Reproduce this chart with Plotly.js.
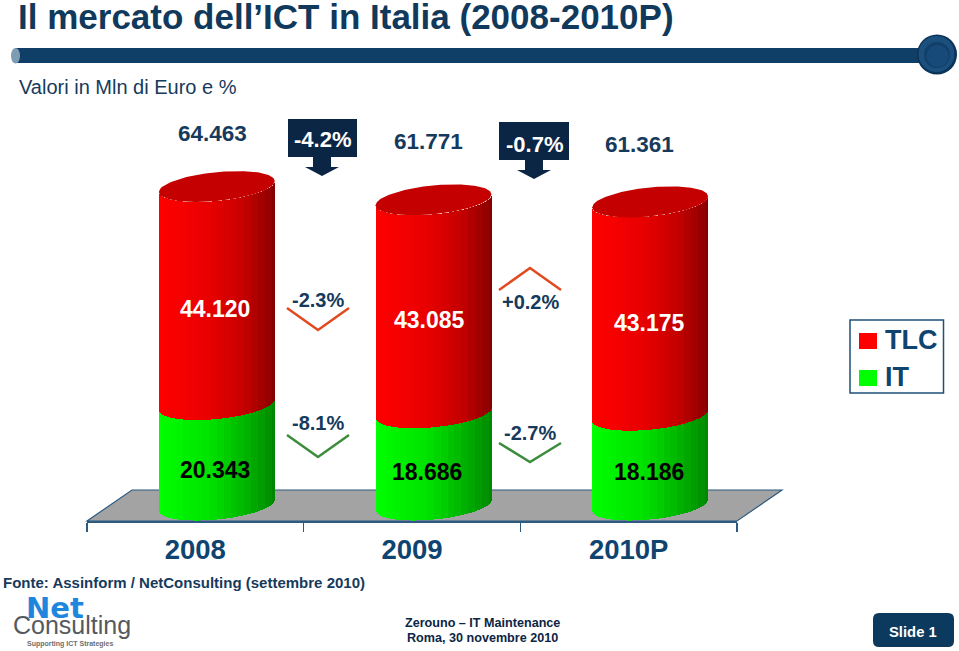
<!DOCTYPE html>
<html><head><meta charset="utf-8">
<script src="https://cdn.plot.ly/plotly-3.0.1.min.js"></script>
<style>html,body{margin:0;padding:0;background:#fff}#chart{width:959px;height:651px}</style>
</head><body><div id="chart"></div>
<script>
// ---- values (Mln di Euro, thousands separated by a dot) ----
var years = ['2008', '2009', '2010P'];
var tlc = [44.120, 43.085, 43.175];
var it = [20.343, 18.686, 18.186];
var totals = [64.463, 61.771, 61.361];
var totalChanges = ['-4.2%', '-0.7%'];
var tlcChanges = ['-2.3%', '+0.2%'];
var itChanges = ['-8.1%', '-2.7%'];

// ---- drawing constants ----
var W = 959, H = 651;
var FONT = '"Liberation Sans", Arial, sans-serif';
var NAVY = '#0b2545', BLUE = '#0f4470', TEXT = '#163a5c', TITLE = '#10395c';
var axL = 87, axR = 737, axY = 521;
var pxPerUnit = 4.94, zeroPx = 505;
var pxPerCat = (axR - axL) / 3;
var halfW = 58, radY = 14.5, tilt = 5.5, depthShift = 21.5;

function X(p) { return p / W; }
function Y(p) { return 1 - p / H; }
function ramp(stops, t) {
  for (var i = 1; i < stops.length; i++) {
    if (t <= stops[i][0]) {
      var a = stops[i - 1], b = stops[i], f = (t - a[0]) / (b[0] - a[0]);
      return [1, 2, 3].map(function (k) { return Math.round(a[k] + (b[k] - a[k]) * f); });
    }
  }
  return stops[stops.length - 1].slice(1);
}
var redStops = [[0, 255, 0, 0], [0.45, 232, 0, 0], [0.75, 195, 0, 0], [1, 135, 0, 0]];
var greenStops = [[0, 0, 255, 0], [0.45, 0, 225, 0], [0.75, 0, 180, 0], [1, 0, 135, 0]];
function col(stops, t) {
  var q = Math.round(t * 17) / 17;           // the cylinders are banded in the reference
  var c = ramp(stops, q);
  return 'rgb(' + c.join(',') + ')';
}
function front(u) { return -(radY * Math.sqrt(Math.max(0, 1 - u * u)) - tilt * u) / pxPerUnit; }
function back(u) { return (radY * Math.sqrt(Math.max(0, 1 - u * u)) + tilt * u) / pxPerUnit; }

// ---- cylinder strips ----
var sx = [], redBase = [], redLen = [], redCol = [], grBase = [], grLen = [], grCol = [];
years.forEach(function (yr, c) {
  for (var k = 0; k < 2 * halfW; k++) {
    var off = k + 0.5 - halfW, u = off / halfW, t = (u + 1) / 2;
    sx.push(c + 1 + (off + depthShift) / pxPerCat);
    grBase.push(front(u)); grLen.push(it[c]); grCol.push(col(greenStops, t));
    redBase.push(it[c] + front(u)); redLen.push(tlc[c]); redCol.push(col(redStops, t));
  }
});
var stripW = 1 / pxPerCat;
var traces = [
  { type: 'bar', name: 'IT', x: sx, y: grLen, base: grBase, width: stripW, marker: { color: grCol, line: { width: 0 } }, hoverinfo: 'skip', showlegend: false },
  { type: 'bar', name: 'TLC', x: sx, y: redLen, base: redBase, width: stripW, marker: { color: redCol, line: { width: 0 } }, hoverinfo: 'skip', showlegend: false }
];
// ---- cylinder caps ----
years.forEach(function (yr, c) {
  var xs = [], ys = [], i, u;
  for (i = 0; i <= 80; i++) { u = -1 + i / 40; xs.push(c + 1 + (u * halfW + depthShift) / pxPerCat); ys.push(it[c] + tlc[c] + front(u)); }
  for (i = 80; i >= 0; i--) { u = -1 + i / 40; xs.push(c + 1 + (u * halfW + depthShift) / pxPerCat); ys.push(it[c] + tlc[c] + back(u)); }
  traces.push({ type: 'scatter', mode: 'lines', x: xs, y: ys, fill: 'toself', fillcolor: '#c40000', line: { width: 0, color: '#c40000' }, hoverinfo: 'skip', showlegend: false, name: 'cap ' + yr });
});

// ---- text ----
var ann = [];
function note(text, px, py, size, color, bold, anchor, family) {
  ann.push({ xref: 'paper', yref: 'paper', x: X(px), y: Y(py), text: text, showarrow: false, xanchor: anchor || 'center', yanchor: 'middle', align: 'center', borderpad: 0,
    font: { family: family || FONT, size: size, color: color, weight: bold ? 'bold' : 'normal' } });
}
note('Valori in Mln di Euro e %', 18, 87, 20, TEXT, false, 'left');
var totalPos = [[212, 133], [428, 141], [639, 145]];
totals.forEach(function (v, i) { note(v.toFixed(3), totalPos[i][0], totalPos[i][1], 22.5, TEXT, true); });
var tlcPos = [[215, 309], [429, 320], [649, 323]];
tlc.forEach(function (v, i) { note(v.toFixed(3), tlcPos[i][0], tlcPos[i][1], 23, '#ffffff', true); });
var itPos = [[215, 470], [427, 472], [649, 472]];
it.forEach(function (v, i) { note(v.toFixed(3), itPos[i][0], itPos[i][1], 23, '#000000', true); });
var boxText = [[322, 139], [534, 144]];
totalChanges.forEach(function (v, i) { note(v, boxText[i][0], boxText[i][1], 22, '#ffffff', true); });
var tlcChangePos = [[318, 300], [530, 302]];
tlcChanges.forEach(function (v, i) { note(v, tlcChangePos[i][0], tlcChangePos[i][1], 20, TEXT, true); });
var itChangePos = [[318, 423], [530, 433]];
itChanges.forEach(function (v, i) { note(v, itChangePos[i][0], itChangePos[i][1], 20, TEXT, true); });
note('TLC', 884, 340, 27, BLUE, true, 'left');
note('IT', 884, 377, 27, BLUE, true, 'left');
note('Fonte: Assinform / NetConsulting (settembre 2010)', 2, 582, 15, TEXT, true, 'left');
note('Consulting', 12, 625, 25, '#555a5e', false, 'left');
note('Net', 25, 608, 29, '#1f86de', true, 'left', '"DejaVu Sans", sans-serif');
note('Supporting ICT Strategies', 26, 644, 7, '#6a6e72', true, 'left');
note('Zerouno – IT Maintenance', 482, 623, 12.6, NAVY, true);
note('Roma, 30 novembre 2010', 482, 638, 12.6, NAVY, true);
note('Slide 1', 913, 632, 14.8, '#ffffff', true);

// ---- decoration ----
function poly(pts, close) {
  return pts.map(function (p, i) { return (i ? 'L' : 'M') + X(p[0]) + ',' + Y(p[1]); }).join(' ') + (close ? ' Z' : '');
}
function shapeFill(pts, fill) {
  return { type: 'path', xref: 'paper', yref: 'paper', path: poly(pts, true), fillcolor: fill, line: { width: 0 }, layer: 'above' };
}
function chevron(pts, color) {
  return { type: 'path', xref: 'paper', yref: 'paper', path: poly(pts, false), fillcolor: 'rgba(0,0,0,0)', line: { color: color, width: 2.5 }, layer: 'above' };
}
function circle(cx, cy, r, fill) {
  return { type: 'circle', xref: 'paper', yref: 'paper', x0: X(cx - r), x1: X(cx + r), y0: Y(cy + r), y1: Y(cy - r), fillcolor: fill, line: { width: 0 }, layer: 'above' };
}
function rect(x0, y0, x1, y1, fill, line) {
  return { type: 'rect', xref: 'paper', yref: 'paper', x0: X(x0), x1: X(x1), y0: Y(y1), y1: Y(y0), fillcolor: fill, line: line || { width: 0 }, layer: 'above' };
}
function arrowBox(x0, y0, x1, y1, cx) {
  return shapeFill([[x0, y0], [x1, y0], [x1, y1], [cx + 9, y1], [cx + 9, y1 + 10], [cx + 17, y1 + 10], [cx, y1 + 19], [cx - 17, y1 + 10], [cx - 9, y1 + 10], [cx - 9, y1], [x0, y1]], NAVY);
}
var sb = { l: 873, r: 954, t: 613, b: 647, c: 6 };
var shapes = [
  { type: 'path', xref: 'paper', yref: 'paper', layer: 'below', path: poly([[axL, axY], [132, 490], [782, 490], [axR, axY]], true), fillcolor: '#a3a3a3', line: { color: '#2c5a80', width: 1.2 } },
  rect(15, 48, 925, 63, '#0f3f66'),
  { type: 'circle', xref: 'paper', yref: 'paper', x0: X(11), x1: X(20), y0: Y(63.5), y1: Y(48), fillcolor: '#7f9cb5', line: { width: 0 }, layer: 'above' },
  circle(937, 54.5, 20, '#0c3358'), circle(936.5, 54, 18, '#1a4f7e'), circle(937, 55, 13, '#123f68'), circle(937.5, 56, 11, '#174a78'),
  arrowBox(288, 119, 357, 157, 322),
  arrowBox(499, 122, 569, 160, 534),
  chevron([[287, 308], [318, 330], [349, 308]], '#e2491f'),
  chevron([[499, 290], [530, 268], [561, 290]], '#e2491f'),
  chevron([[287, 435], [318, 457], [349, 435]], '#3c8c3c'),
  chevron([[499, 443], [530, 462], [561, 443]], '#3c8c3c'),
  rect(850, 320, 943.5, 393, 'rgba(0,0,0,0)', { color: '#1f5079', width: 1.5 }),
  rect(859, 333, 877, 349, '#ff0000'),
  rect(859, 370, 877, 386, '#00ff00'),
  { type: 'path', xref: 'paper', yref: 'paper', layer: 'below', fillcolor: '#0c3a5e', line: { width: 0 },
    path: 'M' + X(sb.l + sb.c) + ',' + Y(sb.t) + ' L' + X(sb.r - sb.c) + ',' + Y(sb.t) + ' Q' + X(sb.r) + ',' + Y(sb.t) + ' ' + X(sb.r) + ',' + Y(sb.t + sb.c) +
      ' L' + X(sb.r) + ',' + Y(sb.b - sb.c) + ' Q' + X(sb.r) + ',' + Y(sb.b) + ' ' + X(sb.r - sb.c) + ',' + Y(sb.b) +
      ' L' + X(sb.l + sb.c) + ',' + Y(sb.b) + ' Q' + X(sb.l) + ',' + Y(sb.b) + ' ' + X(sb.l) + ',' + Y(sb.b - sb.c) +
      ' L' + X(sb.l) + ',' + Y(sb.t + sb.c) + ' Q' + X(sb.l) + ',' + Y(sb.t) + ' ' + X(sb.l + sb.c) + ',' + Y(sb.t) + ' Z' }
];

var layout = {
  width: W, height: H,
  margin: { l: 0, r: 0, t: 0, b: 0, pad: 0 },
  paper_bgcolor: '#ffffff', plot_bgcolor: 'rgba(0,0,0,0)',
  title: { text: 'Il mercato dell’ICT in Italia (2008-2010P)', x: X(18), xanchor: 'left', y: Y(17), yanchor: 'middle', pad: { t: 0, l: 0, b: 0, r: 0 },
    font: { family: FONT, size: 35, weight: 'bold', color: TITLE } },
  barmode: 'overlay', bargap: 0,
  showlegend: false,
  xaxis: { domain: [X(axL), X(axR)], range: [0.5, 3.5], fixedrange: true, showgrid: false, zeroline: false,
    showline: true, linecolor: '#2c5a80', linewidth: 1.5,
    tickmode: 'array', tickvals: [1, 2, 3], ticktext: years, ticks: '', ticklen: 0, ticklabelstandoff: 3,
    tickfont: { family: FONT, size: 27.5, color: BLUE, weight: 'bold' },
    minor: { ticks: 'outside', ticklen: 9, tickwidth: 1.5, tickcolor: '#2c5a80', tickmode: 'array', tickvals: [0.5, 1.5, 2.5, 3.5], showgrid: false } },
  yaxis: { domain: [Y(axY), 1], range: [(zeroPx - axY) / pxPerUnit, zeroPx / pxPerUnit], fixedrange: true, visible: false },
  annotations: ann, shapes: shapes
};
Plotly.newPlot('chart', traces, layout, { displayModeBar: false, staticPlot: true });
</script></body></html>
